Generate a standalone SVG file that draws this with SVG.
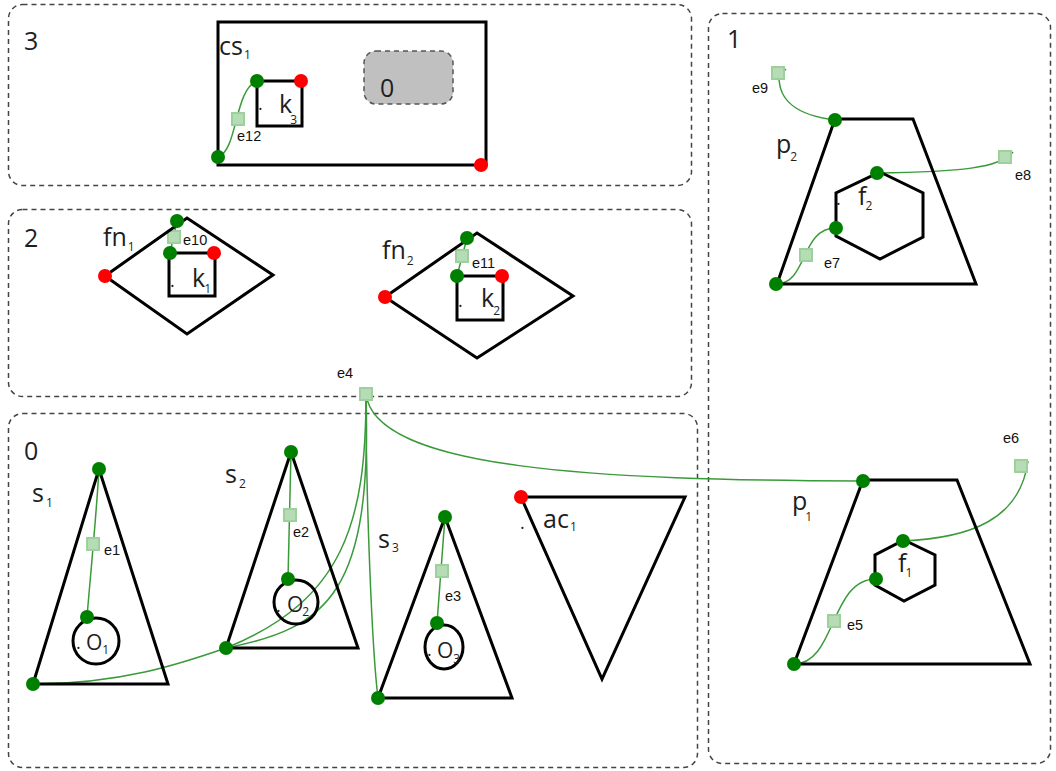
<svg xmlns="http://www.w3.org/2000/svg" width="1056" height="771" viewBox="0 0 1056 771">
<style>
.region{fill:none;stroke:#444;stroke-width:1.5;stroke-dasharray:5 4}
.shape{fill:none;stroke:#000;stroke-width:3}
.lbl{font-family:'Open Sans','Noto Sans',sans-serif;font-size:25px;fill:#1e1e1e}
.olbl{font-family:'Open Sans','Noto Sans',sans-serif;font-size:21px;fill:#1e1e1e}
.sub{font-family:'Open Sans','Noto Sans',sans-serif;font-size:12px;fill:#1e1e1e}
.dot{font-family:'Open Sans','Noto Sans',sans-serif;font-size:18px;fill:#1e1e1e}
.el{font-family:'Liberation Sans',Arial,sans-serif;font-size:14.5px;fill:#111}
.gd{fill:#008000}
.rd{fill:#ff0000}
.edge{fill:none;stroke:#3a9a3a;stroke-width:1.5}
.mk{fill:#b5dcb5;stroke:#9dd09d;stroke-width:2}
</style>
<rect width="1056" height="771" fill="#fff"/>

<g id="regions">
<rect id="region3" class="region" x="8.5" y="4.5" width="683" height="181" rx="14"/>
<text class="lbl" x="24" y="50">3</text>
<rect id="region2" class="region" x="8.5" y="209.5" width="683" height="187" rx="14"/>
<text class="lbl" x="24" y="247">2</text>
<rect id="region0" class="region" x="8.5" y="413.5" width="689" height="354" rx="14"/>
<text class="lbl" x="24" y="460">0</text>
<rect id="region1" class="region" x="708.5" y="13.5" width="342" height="750" rx="14"/>
<text class="lbl" x="727" y="48">1</text>
</g>

<g id="connectors">
<!-- e12 -->
<path class="edge" d="M218,157 C238,150 234,90 257,81"/>
<rect class="mk" x="232" y="113" width="12" height="12"/>
<text class="el" x="237" y="141">e12</text>
<!-- e10 -->
<path class="edge" d="M177,221 L170,253"/>
<rect class="mk" x="168" y="231" width="12" height="12"/>
<text class="el" x="183" y="245">e10</text>
<!-- e11 -->
<path class="edge" d="M467,238 L457,276"/>
<rect class="mk" x="456" y="250" width="12" height="12"/>
<text class="el" x="472" y="268">e11</text>
<!-- e1 -->
<path class="edge" d="M99,469 C96,520 90,580 87,617"/>
<rect class="mk" x="87" y="538" width="12" height="12"/>
<text class="el" x="104" y="555">e1</text>
<!-- e2 -->
<path class="edge" d="M291,452 L288,579"/>
<rect class="mk" x="284" y="509" width="12" height="12"/>
<text class="el" x="293" y="537">e2</text>
<!-- e3 -->
<path class="edge" d="M445,517 L437,623"/>
<rect class="mk" x="436" y="565" width="12" height="12"/>
<text class="el" x="445" y="601">e3</text>
<!-- e4 hub -->
<path class="edge" d="M366,394 C372,590 330,628 226,648 C180,664 120,684 33,684"/>
<path class="edge" d="M366,394 C366,520 345,600 226,648"/>
<path class="edge" d="M366,394 C366,500 372,650 378,698"/>
<path class="edge" d="M366,394 C375,470 600,480 863,481"/>
<rect class="mk" x="360" y="388" width="12" height="12"/>
<text class="el" x="337" y="378">e4</text>
<!-- e5 -->
<path class="edge" d="M794,664 C836,664 830,579 876,579"/>
<rect class="mk" x="828" y="615" width="12" height="12"/>
<text class="el" x="847" y="630">e5</text>
<!-- e6 -->
<path class="edge" d="M903,541 C970,538 1020,520 1028,461"/>
<rect class="mk" x="1015" y="460" width="12" height="12"/>
<text class="el" x="1003" y="443">e6</text>
<!-- e7 -->
<path class="edge" d="M776,284 C808,284 800,228 836,228"/>
<rect class="mk" x="800" y="249" width="12" height="12"/>
<text class="el" x="824" y="268">e7</text>
<!-- e8 -->
<path class="edge" d="M877,173 C960,172 1000,168 1013,152"/>
<rect class="mk" x="999" y="151" width="12" height="12"/>
<text class="el" x="1015" y="180">e8</text>
<!-- e9 -->
<path class="edge" d="M835,120 C795,115 779,100 779,77"/>
<path class="edge" d="M776,79 L786,69"/>
<rect class="mk" x="772" y="67" width="12" height="12"/>
<text class="el" x="752" y="93">e9</text>
</g>

<g id="cs1">
<rect class="shape" x="218" y="22" width="268" height="143"/>
<text class="lbl" x="219" y="55">cs<tspan class="sub" dx="1" dy="4">1</tspan></text>
<circle class="gd" cx="218" cy="157" r="7"/>
<circle class="rd" cx="481" cy="165" r="7"/>
</g>
<g id="node0-ref">
<rect x="364" y="51" width="89" height="53" rx="12" fill="#c0c0c0" stroke="#555" stroke-width="1.5" stroke-dasharray="5 4"/>
<text class="lbl" x="380" y="97">0</text>
</g>
<g id="k3">
<rect class="shape" x="257" y="81" width="45" height="45"/>
<text class="dot" x="258" y="110">.</text>
<text class="lbl" x="279" y="113">k<tspan class="sub" dx="-2" dy="11">3</tspan></text>
<circle class="gd" cx="257" cy="81" r="7"/>
<circle class="rd" cx="301" cy="81" r="7"/>
</g>

<g id="fn1">
<polygon class="shape" points="105,276 187,218 273,275 187,334"/>
<text class="lbl" x="103" y="246">fn<tspan class="sub" dx="1" dy="5">1</tspan></text>
<circle class="rd" cx="105" cy="276" r="7"/>
<circle class="gd" cx="177" cy="221" r="7"/>
</g>
<g id="k1">
<rect class="shape" x="169" y="253" width="46" height="43"/>
<text class="dot" x="170" y="287">.</text>
<text class="lbl" x="192" y="287">k<tspan class="sub" dx="-1" dy="6">1</tspan></text>
<circle class="gd" cx="170" cy="253" r="7"/>
<circle class="rd" cx="214" cy="253" r="7"/>
</g>

<g id="fn2">
<polygon class="shape" points="385,297 477,233 573,296 477,358"/>
<text class="lbl" x="382" y="259">fn<tspan class="sub" dx="1" dy="6">2</tspan></text>
<circle class="rd" cx="385" cy="297" r="7"/>
<circle class="gd" cx="467" cy="238" r="7"/>
</g>
<g id="k2">
<rect class="shape" x="457" y="276" width="46" height="44"/>
<text class="dot" x="458" y="307">.</text>
<text class="lbl" x="481" y="307">k<tspan class="sub" dx="-1" dy="8">2</tspan></text>
<circle class="gd" cx="457" cy="276" r="7"/>
<circle class="rd" cx="502" cy="276" r="7"/>
</g>

<g id="s1">
<polygon class="shape" points="99,469 33,684 168,684"/>
<text class="lbl" x="32" y="502">s<tspan class="sub" dx="2" dy="5">1</tspan></text>
<circle class="gd" cx="99" cy="469" r="7"/>
<circle class="gd" cx="33" cy="684" r="7"/>
</g>
<g id="o1">
<circle class="shape" cx="96" cy="641" r="23"/>
<text class="dot" x="76" y="649">.</text>
<text class="olbl" x="86" y="650">O<tspan class="sub" dx="0" dy="4">1</tspan></text>
<circle class="gd" cx="87" cy="617" r="7"/>
</g>

<g id="s2">
<polygon class="shape" points="291,452 226,648 358,648"/>
<text class="lbl" x="225" y="483">s<tspan class="sub" dx="2" dy="5">2</tspan></text>
<circle class="gd" cx="291" cy="452" r="7"/>
<circle class="gd" cx="226" cy="648" r="7"/>
</g>
<g id="o2">
<circle class="shape" cx="296" cy="602" r="22"/>
<text class="dot" x="276" y="612">.</text>
<text class="olbl" x="287" y="612">O<tspan class="sub" dx="-1" dy="4">2</tspan></text>
<circle class="gd" cx="288" cy="579" r="7"/>
</g>

<g id="s3">
<polygon class="shape" points="445,517 378,698 512,698"/>
<text class="lbl" x="378" y="548">s<tspan class="sub" dx="2" dy="4">3</tspan></text>
<circle class="gd" cx="445" cy="517" r="7"/>
<circle class="gd" cx="378" cy="698" r="7"/>
</g>
<g id="o3">
<ellipse class="shape" cx="444" cy="647" rx="19" ry="22"/>
<text class="dot" x="427" y="656">.</text>
<text class="olbl" x="437" y="658">O<tspan class="sub" dx="0" dy="5">3</tspan></text>
<circle class="gd" cx="437" cy="623" r="7"/>
</g>

<g id="ac1">
<polygon class="shape" points="521,497 685,497 602,679"/>
<text class="dot" x="520" y="529">.</text>
<text class="lbl" x="543" y="528">ac<tspan class="sub" dx="1" dy="3">1</tspan></text>
<circle class="rd" cx="521" cy="497" r="7"/>
</g>

<g id="p2">
<polygon class="shape" points="835,119 913,119 976,284 777,284"/>
<text class="lbl" x="776" y="153">p<tspan class="sub" dx="-1" dy="8">2</tspan></text>
<circle class="gd" cx="835" cy="120" r="7"/>
<circle class="gd" cx="776" cy="284" r="7"/>
</g>
<g id="f2">
<polygon class="shape" points="880,172 923,193 923,237 880,259 836,236 836,193"/>
<text class="dot" x="836" y="205">.</text>
<text class="lbl" x="858" y="205">f<tspan class="sub" dx="-1" dy="5">2</tspan></text>
<circle class="gd" cx="877" cy="173" r="7"/>
<circle class="gd" cx="836" cy="228" r="7"/>
</g>

<g id="p1">
<polygon class="shape" points="863,480 957,480 1030,664 794,664"/>
<text class="lbl" x="792" y="510">p<tspan class="sub" dx="-2" dy="11">1</tspan></text>
<circle class="gd" cx="863" cy="481" r="7"/>
<circle class="gd" cx="794" cy="664" r="7"/>
</g>
<g id="f1">
<polygon class="shape" points="904,540 935,555 935,585 904,601 875,585 875,555"/>
<text class="lbl" x="898" y="572">f<tspan class="sub" dx="-1" dy="5">1</tspan></text>
<circle class="gd" cx="903" cy="541" r="7"/>
<circle class="gd" cx="876" cy="579" r="7"/>
</g>
</svg>
